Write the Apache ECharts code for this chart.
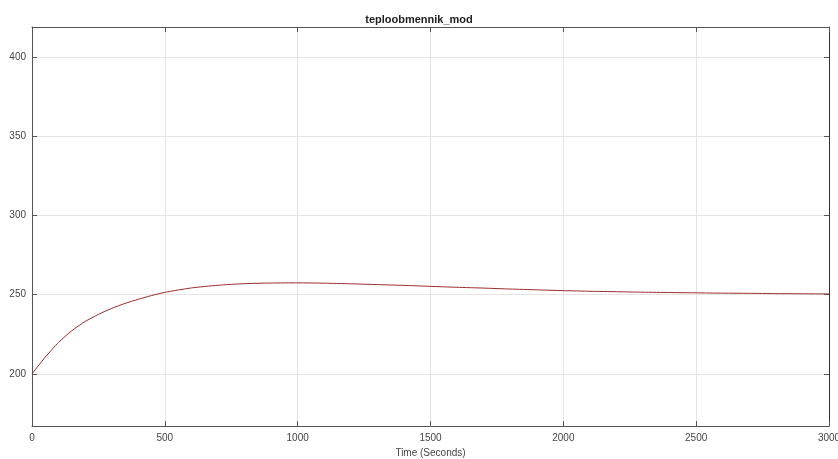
<!DOCTYPE html>
<html>
<head>
<meta charset="utf-8">
<script src="https://cdn.jsdelivr.net/npm/echarts@6/dist/echarts.min.js"></script>
<style>html,body{margin:0;padding:0;background:#fff}#c{width:838px;height:459px}</style>
</head>
<body>
<div id="c"></div>
<script>
const timeSec = [0, 50, 100, 150, 200, 250, 300, 350, 400, 450, 500, 600, 700, 800, 900, 1000, 1100, 1200, 1300, 1400, 1500, 1600, 1700, 1800, 1900, 2000, 2100, 2200, 2300, 2400, 2500, 2600, 2700, 2800, 2900, 3000];
const temperature = [200, 210.5, 219.8, 227.2, 233.0, 237.5, 241.3, 244.4, 247.0, 249.4, 251.4, 254.2, 255.9, 256.9, 257.3, 257.4, 257.2, 256.8, 256.3, 255.8, 255.2, 254.6, 254.1, 253.5, 253.0, 252.5, 252.1, 251.8, 251.5, 251.3, 251.1, 250.9, 250.8, 250.6, 250.5, 250.4];
const yTicks = [200, 250, 300, 350, 400];
const titleText = 'teploobmennik_mod';
const xName = 'Time (Seconds)';

const chart = echarts.init(document.getElementById('c'), null, {renderer: 'canvas'});
const font = 'Liberation Sans, Arial, sans-serif';
const axisLineStyle = {color: '#555', width: 1};
const xBase = {type: 'value', min: 0, max: 3000, interval: 500};
const yBase = {type: 'value', min: 167, max: 419};
chart.setOption({
  animation: false,
  backgroundColor: '#fff',
  title: {text: titleText, left: 'center', top: 9, textStyle: {fontFamily: font, fontSize: 11, fontWeight: 'bold', color: '#222'}},
  grid: {left: 32, right: 9, top: 27, bottom: 33, containLabel: false, outerBoundsMode: 'none'},
  xAxis: [
    Object.assign({}, xBase, {
      position: 'bottom',
      name: xName, nameLocation: 'middle', nameGap: 15,
      nameTextStyle: {fontFamily: font, fontSize: 10, color: '#444'},
      axisLine: {show: true, onZero: false, lineStyle: axisLineStyle},
      axisTick: {show: true, inside: true, length: 5, lineStyle: axisLineStyle},
      axisLabel: {fontFamily: font, fontSize: 10, color: '#444', margin: 7, showMinLabel: true, showMaxLabel: true, formatter: v => String(v)},
      splitLine: {show: true, lineStyle: {color: '#e4e4e4', width: 1}}
    }),
    Object.assign({}, xBase, {
      position: 'top',
      axisLine: {show: true, onZero: false, lineStyle: axisLineStyle},
      axisTick: {show: true, inside: true, length: 5, lineStyle: axisLineStyle},
      axisLabel: {show: false},
      splitLine: {show: false}
    })
  ],
  yAxis: [
    Object.assign({}, yBase, {
      position: 'left',
      axisLine: {show: true, onZero: false, lineStyle: axisLineStyle},
      axisTick: {show: true, inside: true, length: 5, lineStyle: axisLineStyle, customValues: yTicks},
      axisLabel: {fontFamily: font, fontSize: 10, color: '#444', margin: 6, customValues: yTicks},
      splitLine: {show: true, lineStyle: {color: '#e4e4e4', width: 1}}
    }),
    Object.assign({}, yBase, {
      position: 'right',
      axisLine: {show: true, onZero: false, lineStyle: {color: '#333', width: 1}},
      axisTick: {show: true, inside: true, length: 5, lineStyle: axisLineStyle, customValues: yTicks},
      axisLabel: {show: false},
      splitLine: {show: false}
    })
  ],
  series: [{
    type: 'line',
    xAxisIndex: 0, yAxisIndex: 0,
    data: timeSec.map((t, i) => [t, temperature[i]]),
    showSymbol: false,
    smooth: 0.2,
    lineStyle: {color: '#9e2b2b', width: 1}
  }]
});
</script>
</body>
</html>
